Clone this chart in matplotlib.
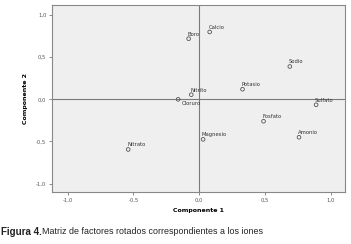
import matplotlib
matplotlib.use("Agg")
import matplotlib.pyplot as plt

names = ["Calcio", "Boro", "Sodio", "Potasio", "Nitrito", "Cloruro", "Sulfato",
         "Fosfato", "Amonio", "Magnesio", "Nitrato"]
comp1 = [0.08, -0.08, 0.69, 0.33, -0.06, -0.16, 0.89, 0.49, 0.76, 0.03, -0.54]
comp2 = [0.80, 0.72, 0.39, 0.12, 0.055, 0.00, -0.065, -0.26, -0.45, -0.475, -0.595]
xticks = [-1.0, -0.5, 0.0, 0.5, 1.0]
yticks = [-1.0, -0.5, 0.0, 0.5, 1.0]

def fmt(v):
    return f"{v:.1f}".replace(".", ",")

fig = plt.figure(figsize=(3.51, 2.44), dpi=100)
ax = fig.add_axes([52/351, 1-192/244, (345-52)/351, (192-5)/244])
ax.set_facecolor("#efefef")
ax.set_xlim(-1.12, 1.11)
ax.set_ylim(-1.10, 1.12)
ax.axhline(0, color="#7a7a7a", lw=0.8, zorder=1)
ax.axvline(0, color="#7a7a7a", lw=0.8, zorder=1)
ax.scatter(comp1, comp2, s=7, facecolors="none", edgecolors="#555555", linewidths=0.6, zorder=3)
for n, x, y in zip(names, comp1, comp2):
    if n == "Cloruro":
        ax.annotate(n, (x, y), xytext=(2.5, -1.5), textcoords="offset points",
                    ha="left", va="top", fontsize=3.8, color="#333333")
    else:
        ax.annotate(n, (x, y), xytext=(-0.8, 1.5), textcoords="offset points",
                    ha="left", va="bottom", fontsize=3.8, color="#333333")
ax.set_xticks(xticks)
ax.set_xticklabels([fmt(v) for v in xticks])
ax.set_yticks(yticks)
ax.set_yticklabels([fmt(v) for v in yticks])
ax.tick_params(labelsize=3.8, labelcolor="#555555", color="#777777", length=2, width=0.6, pad=2)
for s in ax.spines.values():
    s.set_color("#888888")
    s.set_linewidth(0.8)
ax.set_xlabel("Componente 1", fontsize=4.5, fontweight="bold", labelpad=4)
ax.set_ylabel("Componente 2", fontsize=4.5, fontweight="bold", labelpad=6)

fig.text(1/351, 1-232/244, "Figura 4.", fontsize=7.0, fontweight="bold", va="center", ha="left",
         family="Liberation Sans", color="#222222")
fig.text(42/351, 1-232/244, "Matriz de factores rotados correspondientes a los iones",
         fontsize=6.4, va="center", ha="left", family="Liberation Sans", color="#222222")
fig.savefig("out.png", dpi=100)
